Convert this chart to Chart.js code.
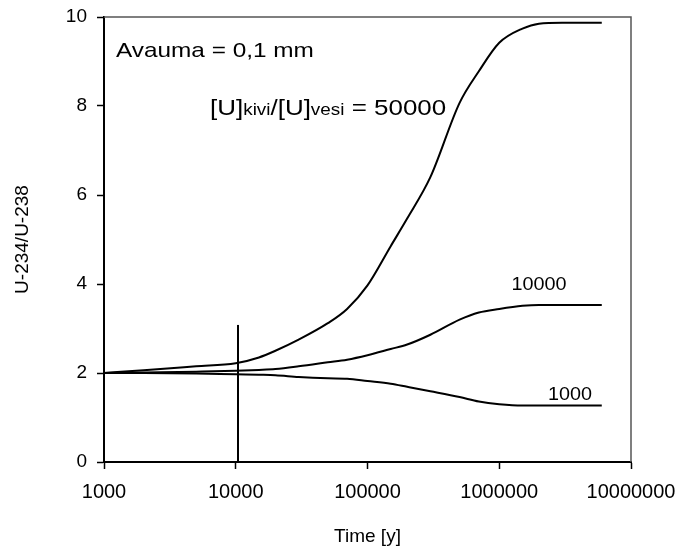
<!DOCTYPE html>
<html>
<head>
<meta charset="utf-8">
<script src="https://cdn.jsdelivr.net/npm/chart.js@4"></script>
<style>
  html, body { margin: 0; padding: 0; background: #fff; }
  #wrap { width: 682px; height: 548px; }
</style>
</head>
<body>
<div id="wrap"><canvas id="chart" width="682" height="548"></canvas></div>
<script>
// time points [y]
const years = [1000, 2000, 5000, 10000, 15000, 20000, 30000, 50000, 70000, 100000,
  150000, 200000, 300000, 500000, 700000, 1000000, 1500000, 2000000, 3000000, 6000000];

// U-234/U-238 for [U]kivi/[U]vesi = 50000, 10000, 1000
const ratio50000 = [2.0, 2.06, 2.15, 2.22, 2.35, 2.5, 2.75, 3.12, 3.44, 3.97,
  4.85, 5.47, 6.4, 8.07, 8.78, 9.42, 9.74, 9.85, 9.87, 9.87];
const ratio10000 = [2.0, 2.01, 2.03, 2.05, 2.07, 2.09, 2.15, 2.24, 2.3, 2.4,
  2.54, 2.64, 2.86, 3.2, 3.36, 3.44, 3.51, 3.53, 3.53, 3.53];
const ratio1000 = [2.0, 2.0, 1.99, 1.97, 1.96, 1.95, 1.91, 1.88, 1.87, 1.82,
  1.76, 1.69, 1.59, 1.46, 1.36, 1.3, 1.27, 1.27, 1.27, 1.27];

// vertical marker line
const markerX = [10400, 10400];
const markerY = [0, 3.08];

const xTicks = [1000, 10000, 100000, 1000000, 10000000];
const xTickLabels = ["1000", "10000", "100000", "1000000", "10000000"];

const toPoints = (xs, ys) => xs.map((x, i) => ({ x: x, y: ys[i] }));

const FONT = "'Liberation Sans', Arial, sans-serif";

const lineStyle = {
  borderColor: "#000",
  borderWidth: 2,
  pointRadius: 0,
  fill: false,
  cubicInterpolationMode: "monotone",
};

// draws text a bit wider than normal, like the original figure
function wideText(ctx, parts, x, y, stretch) {
  ctx.save();
  ctx.translate(x, y);
  ctx.scale(stretch, 1);
  let cx = 0;
  parts.forEach(([t, size]) => {
    ctx.font = size + "px " + FONT;
    ctx.fillText(t, cx, 0);
    cx += ctx.measureText(t).width;
  });
  ctx.restore();
}

// let layout.padding alone decide the plot box
const noScalePadding = (scale) => {
  scale.paddingTop = 0;
  scale.paddingBottom = 0;
  scale.paddingLeft = 0;
  scale.paddingRight = 0;
};

const textPlugin = {
  id: "texts",
  beforeDatasetsDraw(chart) {
    const { ctx, chartArea } = chart;
    // top and right frame
    ctx.save();
    ctx.strokeStyle = "#555";
    ctx.lineWidth = 1.5;
    ctx.beginPath();
    ctx.moveTo(chartArea.left, chartArea.top);
    ctx.lineTo(chartArea.right, chartArea.top);
    ctx.lineTo(chartArea.right, chartArea.bottom);
    ctx.stroke();
    ctx.restore();
  },
  afterDatasetsDraw(chart) {
    const { ctx, scales } = chart;
    const px = (v) => scales.x.getPixelForValue(v);
    const py = (v) => scales.y.getPixelForValue(v);
    ctx.save();
    ctx.fillStyle = "#000";
    ctx.textBaseline = "alphabetic";
    ctx.textAlign = "left";

    wideText(ctx, [["Avauma = 0,1 mm", 21]], px(1233), py(9.1), 1.16);
    wideText(ctx, [["[U]", 22], ["kivi", 16], ["/[U]", 22], ["vesi", 16], [" = 50000", 22]],
      px(6380), py(7.8), 1.18);

    // curve labels, centred
    ctx.font = "18px " + FONT;
    ctx.textAlign = "center";
    ctx.save();
    ctx.translate(px(2000000), py(3.86));
    ctx.scale(1.1, 1);
    ctx.fillText("10000", 0, 0);
    ctx.restore();
    ctx.save();
    ctx.translate(px(3440000), py(1.39));
    ctx.scale(1.1, 1);
    ctx.fillText("1000", 0, 0);
    ctx.restore();
    ctx.restore();
  },
};

new Chart(document.getElementById("chart"), {
  type: "line",
  data: {
    datasets: [
      { ...lineStyle, data: toPoints(years, ratio50000) },
      { ...lineStyle, data: toPoints(years, ratio10000) },
      { ...lineStyle, data: toPoints(years, ratio1000) },
      { ...lineStyle, cubicInterpolationMode: "default", data: toPoints(markerX, markerY) },
    ],
  },
  options: {
    responsive: false,
    animation: false,
    layout: { padding: { top: 17, right: 51, left: 0, bottom: 0 } },
    plugins: { legend: { display: false }, tooltip: { enabled: false } },
    scales: {
      x: {
        type: "logarithmic",
        min: 1000,
        max: 10000000,
        afterBuildTicks: (scale) => {
          scale.ticks = xTicks.map((v) => ({ value: v }));
        },
        afterFit: (scale) => { scale.height = 86; noScalePadding(scale); },
        ticks: {
          color: "#000",
          font: { family: FONT, size: 20 },
          padding: 11,
          maxRotation: 0,
          autoSkip: false,
          callback: (v) => xTickLabels[xTicks.indexOf(v)] ?? "",
        },
        grid: { drawOnChartArea: false, tickLength: 7, tickWidth: 1.5, tickColor: "#000" },
        border: { color: "#000", width: 2 },
        title: {
          display: true,
          text: "Time [y]",
          color: "#000",
          font: { family: FONT, size: 19 },
          padding: { top: 0, bottom: 0 },
        },
      },
      y: {
        min: 0,
        max: 10,
        afterFit: (scale) => { scale.width = 104; noScalePadding(scale); },
        ticks: {
          stepSize: 2,
          color: "#000",
          font: { family: FONT, size: 19 },
          padding: 10,
        },
        grid: { drawOnChartArea: false, tickLength: 7, tickWidth: 1.5, tickColor: "#000" },
        border: { color: "#000", width: 2 },
        title: {
          display: true,
          text: "U-234/U-238",
          color: "#000",
          font: { family: FONT, size: 19 },
          padding: { top: 11, bottom: 0 },
        },
      },
    },
  },
  plugins: [textPlugin],
});
</script>
</body>
</html>
